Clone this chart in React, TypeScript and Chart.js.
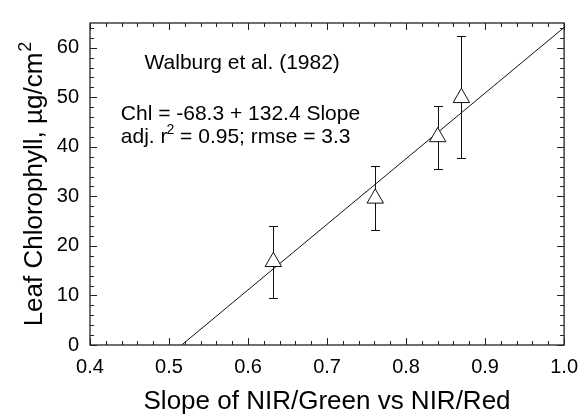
import React, { useEffect, useRef } from 'react';
import { Chart, registerables } from 'chart.js';

Chart.register(...registerables);

// ---- data ----
const slopeX = [0.632, 0.761, 0.84, 0.87];
const chlY = [16.8, 29.6, 42.0, 49.9];
const errUpper = [24.0, 36.1, 48.3, 62.3];
const errLower = [9.4, 23.3, 35.6, 37.7];
const fitX = [0.516, 1.0];
const fitY = [0, 64.1];
const xTickLabels = [0.4, 0.5, 0.6, 0.7, 0.8, 0.9, 1.0];
const yTickLabels = [0, 10, 20, 30, 40, 50, 60];
const xTitle = 'Slope of NIR/Green vs NIR/Red';
// [main text, superscript]
const yTitleParts = ['Leaf Chlorophyll, µg/cm', '2'];
const noteSource = 'Walburg et al. (1982)';
const noteEquation = 'Chl = -68.3 + 132.4 Slope';
// [before superscript, superscript, after superscript]
const noteStatsParts = ['adj. r', '2', ' = 0.95; rmse = 3.3'];

const X_MIN = 0.4;
const X_MAX = 1.0;
const Y_MIN = 0;
const Y_MAX = 65;
const X_MINOR = 0.02;
const Y_MINOR = 2;

const FONT = '"Liberation Sans", Arial, Helvetica, sans-serif';

const framePlugin = {
  id: 'framePlugin',
  beforeDatasetsDraw(chart: any) {
    const { ctx, scales } = chart;
    const x = scales.x;
    const y = scales.y;
    ctx.save();
    ctx.strokeStyle = '#111';
    ctx.lineWidth = 1;
    slopeX.forEach((v, i) => {
      const px = Math.round(x.getPixelForValue(v)) + 0.5;
      const top = Math.round(y.getPixelForValue(errUpper[i])) + 0.5;
      const bot = Math.round(y.getPixelForValue(errLower[i])) + 0.5;
      ctx.beginPath();
      ctx.moveTo(px, top);
      ctx.lineTo(px, bot);
      ctx.moveTo(px - 4.5, top);
      ctx.lineTo(px + 4.5, top);
      ctx.moveTo(px - 4.5, bot);
      ctx.lineTo(px + 4.5, bot);
      ctx.stroke();
    });
    ctx.restore();
  },
  afterDraw(chart: any) {
    const { ctx, chartArea: a, scales } = chart;
    const x = scales.x;
    const y = scales.y;
    ctx.save();
    ctx.strokeStyle = '#222';
    ctx.lineWidth = 1.3;
    ctx.strokeRect(a.left, a.top, a.right - a.left, a.bottom - a.top);
    ctx.lineWidth = 1;
    const MAJ = 7;
    const MIN = 4;
    ctx.beginPath();
    const nx = Math.round((X_MAX - X_MIN) / X_MINOR);
    for (let i = 0; i <= nx; i++) {
      const v = X_MIN + i * X_MINOR;
      const major = xTickLabels.some((t) => Math.abs(t - v) < 1e-6);
      const len = major ? MAJ : MIN;
      const px = Math.round(x.getPixelForValue(v)) + 0.5;
      ctx.moveTo(px, a.bottom);
      ctx.lineTo(px, a.bottom - len);
      ctx.moveTo(px, a.top);
      ctx.lineTo(px, a.top + len);
    }
    const ny = Math.floor((Y_MAX - Y_MIN) / Y_MINOR + 1e-9);
    for (let i = 0; i <= ny; i++) {
      const v = Y_MIN + i * Y_MINOR;
      const major = yTickLabels.some((t) => Math.abs(t - v) < 1e-6);
      const len = major ? MAJ : MIN;
      const py = Math.round(y.getPixelForValue(v)) + 0.5;
      ctx.moveTo(a.left, py);
      ctx.lineTo(a.left + len, py);
      ctx.moveTo(a.right, py);
      ctx.lineTo(a.right - len, py);
    }
    ctx.stroke();

    // annotations
    ctx.fillStyle = '#000';
    ctx.textBaseline = 'alphabetic';
    ctx.textAlign = 'left';
    const big = '21px ' + FONT;
    const small = '14px ' + FONT;
    ctx.font = big;
    ctx.fillText(noteSource, x.getPixelForValue(0.469), y.getPixelForValue(55.7));
    ctx.fillText(noteEquation, x.getPixelForValue(0.439), y.getPixelForValue(45.5));
    let sx = x.getPixelForValue(0.439);
    const sy = y.getPixelForValue(40.8);
    ctx.fillText(noteStatsParts[0], sx, sy);
    sx += ctx.measureText(noteStatsParts[0]).width;
    ctx.font = small;
    ctx.fillText(noteStatsParts[1], sx - 1, sy - 9);
    sx += ctx.measureText(noteStatsParts[1]).width - 1;
    ctx.font = big;
    ctx.fillText(noteStatsParts[2], sx, sy);

    // y-axis title with superscript
    const cy = (a.top + a.bottom) / 2;
    ctx.translate(33, cy);
    ctx.rotate(-Math.PI / 2);
    ctx.textBaseline = 'alphabetic';
    const tBig = '26px ' + FONT;
    const tSmall = '18px ' + FONT;
    ctx.font = tBig;
    const w1 = ctx.measureText(yTitleParts[0]).width;
    ctx.font = tSmall;
    const w2 = ctx.measureText(yTitleParts[1]).width;
    const start = -(w1 + w2 + 1) / 2;
    const base = 9;
    ctx.font = tBig;
    ctx.fillText(yTitleParts[0], start, base);
    ctx.font = tSmall;
    ctx.fillText(yTitleParts[1], start + w1 + 1, base - 11);
    ctx.restore();
  },
};

export default function App() {
  const canvasRef = useRef<HTMLCanvasElement | null>(null);

  useEffect(() => {
    const canvas = canvasRef.current;
    if (!canvas) return;
    const chart = new Chart(canvas, {
      type: 'scatter',
      data: {
        datasets: [
          {
            label: 'Walburg',
            data: slopeX.map((v, i) => ({ x: v, y: chlY[i] })),
            pointStyle: 'triangle',
            pointRadius: 9.5,
            pointHoverRadius: 9.5,
            pointBackgroundColor: '#fff',
            pointBorderColor: '#111',
            pointBorderWidth: 1,
            showLine: false,
          },
          {
            label: 'fit',
            data: fitX.map((v, i) => ({ x: v, y: fitY[i] })),
            showLine: true,
            pointRadius: 0,
            borderColor: '#111',
            borderWidth: 1,
            fill: false,
          },
        ],
      },
      options: {
        responsive: false,
        animation: false,
        events: [],
        layout: { padding: { top: 14, right: 18, left: 0, bottom: 0 } },
        plugins: {
          legend: { display: false },
          tooltip: { enabled: false },
          title: { display: false },
        },
        scales: {
          x: {
            type: 'linear',
            min: X_MIN,
            max: X_MAX,
            afterBuildTicks: (s: any) => {
              s.ticks = xTickLabels.map((v) => ({ value: v }));
            },
            afterFit: (s: any) => {
              s.height = 74;
            },
            grid: { display: false, drawTicks: false },
            border: { display: false },
            ticks: {
              color: '#000',
              font: { family: FONT, size: 20 },
              padding: 10,
              maxRotation: 0,
              autoSkip: false,
              callback: (v: any) => Number(v).toFixed(1),
            },
            title: {
              display: true,
              text: xTitle,
              color: '#000',
              font: { family: FONT, size: 26 },
              padding: { top: 0, bottom: 2 },
            },
          },
          y: {
            type: 'linear',
            min: Y_MIN,
            max: Y_MAX,
            afterBuildTicks: (s: any) => {
              s.ticks = yTickLabels.map((v) => ({ value: v }));
            },
            afterFit: (s: any) => {
              s.width = 90;
            },
            grid: { display: false, drawTicks: false },
            border: { display: false },
            ticks: {
              color: '#000',
              font: { family: FONT, size: 20 },
              padding: 11,
              autoSkip: false,
              callback: (v: any) => String(v),
            },
            title: { display: false },
          },
        },
      },
      plugins: [framePlugin],
    } as any);
    return () => chart.destroy();
  }, []);

  return (
    <div style={{ position: 'absolute', left: 0, top: 0, width: 588, height: 419, background: '#fff' }}>
      <canvas ref={canvasRef} width={588} height={419} style={{ display: 'block' }} />
    </div>
  );
}
